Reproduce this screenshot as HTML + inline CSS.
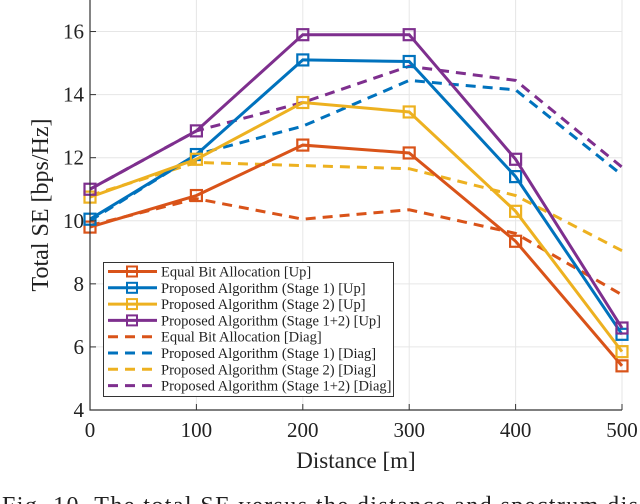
<!DOCTYPE html>
<html><head><meta charset="utf-8"><style>
html,body{margin:0;padding:0;background:#fff;width:640px;height:504px;overflow:hidden}
svg text{font-family:"Liberation Serif",serif;fill:#222}
</style></head><body>
<svg id="chart" width="640" height="504">
<g id="grid"></g>
<g id="series"></g>
<g id="axes"></g>
<g id="legend"></g>
<text x="356" y="468" font-size="23" text-anchor="middle">Distance [m]</text>
<text transform="translate(48,205) rotate(-90)" font-size="24" text-anchor="middle">Total SE [bps/Hz]</text>
<text x="2" y="513" font-size="24" textLength="636" lengthAdjust="spacing">Fig. 10.  The total SE versus the distance and spectrum dis</text>
</svg>
<script>
const categories=[0,100,200,300,400,500];
const xTicks=[0,100,200,300,400,500];
const yTicks=[4,6,8,10,12,14,16];
const upEqual=[9.8,10.8,12.4,12.15,9.35,5.4];
const upS1=[10.05,12.1,15.1,15.05,11.4,6.4];
const upS2=[10.75,11.95,13.75,13.45,10.3,5.85];
const upS12=[11.0,12.85,15.9,15.9,11.95,6.6];
const diagEqual=[9.85,10.7,10.05,10.35,9.6,7.65];
const diagS1=[10.0,12.1,13.0,14.45,14.15,11.45];
const diagS2=[10.8,11.85,11.75,11.65,10.8,9.05];
const diagS12=[11.0,12.85,13.75,14.9,14.45,11.7];
const names=["Equal Bit Allocation [Up]","Proposed Algorithm (Stage 1) [Up]","Proposed Algorithm (Stage 2) [Up]","Proposed Algorithm (Stage 1+2) [Up]","Equal Bit Allocation [Diag]","Proposed Algorithm (Stage 1) [Diag]","Proposed Algorithm (Stage 2) [Diag]","Proposed Algorithm (Stage 1+2) [Diag]"];
const NS="http://www.w3.org/2000/svg";
const X0=90,X1=622,Y0=410,Y1=0;
function sx(v){return X0+(v-0)/500*(X1-X0);}
function sy(v){return Y0-(v-4)/13*(Y0-Y1);}
function mk(t,a,p){const e=document.createElementNS(NS,t);for(const k in a)e.setAttribute(k,a[k]);p.appendChild(e);return e;}
const grid=document.getElementById('grid'),axes=document.getElementById('axes'),ser=document.getElementById('series'),leg=document.getElementById('legend');
xTicks.forEach(t=>{
 const l=mk('line',{x1:sx(t),x2:sx(t),y1:Y1,y2:Y0,stroke:'#e6e6e6','stroke-width':1},grid);
 
 const k=mk('line',{x1:sx(t),x2:sx(t),y1:Y0,y2:Y0-6,stroke:'#333'},axes);
 
 const tx=mk('text',{x:sx(t),y:Y0+27,'font-size':21,'text-anchor':'middle'},axes);tx.textContent=t;
 
});
yTicks.forEach(t=>{
 const l=mk('line',{x1:X0,x2:X1,y1:sy(t),y2:sy(t),stroke:'#e6e6e6','stroke-width':1},grid);
 
 const k=mk('line',{x1:X0,x2:X0+6,y1:sy(t),y2:sy(t),stroke:'#333'},axes);
 
 const tx=mk('text',{x:X0-6,y:sy(t)+7,'font-size':21,'text-anchor':'end'},axes);tx.textContent=t;
 
});
const ax=mk('path',{d:`M${X0},${Y1}V${Y0}H${X1}`,fill:'none',stroke:'#333','stroke-width':1.2},axes);

const cols=['#D95319','#0072BD','#EDB120','#7E2F8E'];
const all=[upEqual,upS1,upS2,upS12,diagEqual,diagS1,diagS2,diagS12];
[4,5,6,7,0,1,2,3].forEach(i=>{
 const d=all[i],c=cols[i%4],dash=i>=4;
 const p=mk('polyline',{points:d.map((v,j)=>sx(categories[j])+','+sy(v)).join(' '),fill:'none',stroke:c,'stroke-width':3,'stroke-dasharray':dash?'10,7':'none'},ser);
 
 if(!dash)d.forEach((v,j)=>{
  const m=mk('rect',{x:sx(categories[j])-5.5,y:sy(v)-5.5,width:11,height:11,fill:'none',stroke:c,'stroke-width':2.2},ser);
  
 });
});
const box=mk('rect',{x:103.5,y:262.5,width:290,height:134,fill:'#fff',stroke:'#333','stroke-width':1},leg);

names.forEach((n,i)=>{
 const y=271.5+i*16.3,c=cols[i%4];
 const g=mk('g',{},leg);
 
 mk('line',{x1:108,x2:157,y1:y,y2:y,stroke:c,'stroke-width':3,'stroke-dasharray':i>=4?'10,7':'none'},g);
 if(i<4)mk('rect',{x:127,y:y-5,width:10,height:10,fill:'none',stroke:c,'stroke-width':2},g);
 const t=mk('text',{x:161,y:y+5,'font-size':14.5},g);t.textContent=n;
});
</script>
</body></html>
